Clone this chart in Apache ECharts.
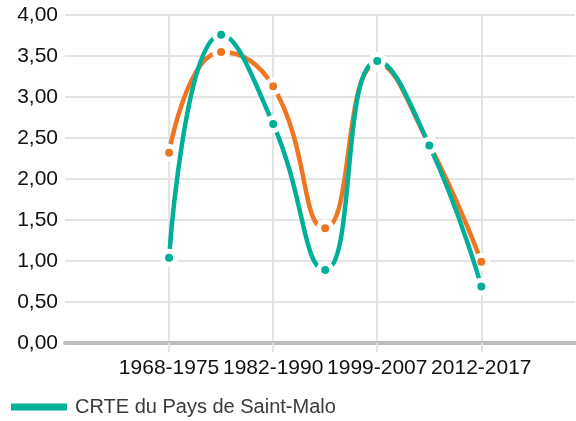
<!DOCTYPE html>
<html>
<head>
<meta charset="utf-8">
<script src="https://cdn.jsdelivr.net/npm/echarts@6/dist/echarts.min.js"></script>
<style>
  html, body { margin: 0; padding: 0; background: #fff; }
  #chart { width: 576px; height: 421px; }
</style>
</head>
<body>
<div id="chart"></div>
<script>
// périodes intercensitaires (une étiquette sur deux affichée)
var periodes = ['1968-1975', '1975-1982', '1982-1990', '1990-1999', '1999-2007', '2007-2012', '2012-2017'];
var ticksX = [0, 2, 4, 6];
var ticksY = [0, 0.5, 1, 1.5, 2, 2.5, 3, 3.5, 4];

// série de comparaison (orange, hors légende)
var valeursRef = [2.32, 3.55, 3.13, 1.40, 3.41, 2.42, 0.99];
// CRTE du Pays de Saint-Malo (vert)
var valeursCrte = [1.04, 3.76, 2.67, 0.89, 3.44, 2.41, 0.69];

var nomCrte = 'CRTE du Pays de Saint-Malo';
var police = 'Liberation Sans, Arial, sans-serif';

function paires(vals) {
  return vals.map(function (v, i) { return [i, v]; });
}

var myChart = echarts.init(document.getElementById('chart'));

var option = {
  animation: false,
  textStyle: { fontFamily: police },
  grid: {
    left: 65,
    right: 1,
    top: 15,
    bottom: 78,
    containLabel: false
  },
  legend: {
    data: [nomCrte],
    left: 11,
    top: 397,
    padding: 0,
    icon: 'rect',
    itemWidth: 56,
    itemHeight: 7,
    itemStyle: { borderWidth: 0 },
    textStyle: {
      fontSize: 20,
      color: '#3a3a3a',
      fontFamily: police,
      padding: [0, 0, 0, 3]
    }
  },
  xAxis: {
    type: 'value',
    min: -2,
    max: 7.8,
    interval: 2,
    axisLine: {
      show: true,
      onZero: false,
      lineStyle: { color: '#bdbdbd', width: 4 }
    },
    axisTick: {
      show: true,
      length: 9,
      customValues: ticksX,
      lineStyle: { color: '#e3e3e3', width: 2 }
    },
    axisLabel: {
      customValues: ticksX,
      margin: 15,
      fontSize: 21,
      color: '#111',
      fontFamily: police,
      formatter: function (v) { return periodes[Math.round(v)] || ''; }
    },
    splitLine: {
      show: true,
      lineStyle: { color: '#e3e3e3', width: 2 }
    }
  },
  yAxis: {
    type: 'value',
    min: ticksY[0],
    max: ticksY[ticksY.length - 1],
    interval: 0.5,
    axisLine: { show: false },
    axisTick: { show: false },
    axisLabel: {
      margin: 7,
      fontSize: 21,
      color: '#111',
      fontFamily: police,
      formatter: function (v) { return v.toFixed(2).replace('.', ','); }
    },
    splitLine: {
      show: true,
      lineStyle: { color: '#e3e3e3', width: 2 }
    }
  },
  series: [
    {
      name: 'Référence',
      type: 'line',
      smooth: 0.5,
      data: paires(valeursRef),
      symbol: 'circle',
      symbolSize: 13,
      lineStyle: { color: '#ef7521', width: 4.5 },
      itemStyle: { color: '#ef7521', borderColor: '#fff', borderWidth: 5 },
      z: 2
    },
    {
      name: nomCrte,
      type: 'line',
      smooth: 0.5,
      data: paires(valeursCrte),
      symbol: 'circle',
      symbolSize: 13,
      lineStyle: { color: '#00af98', width: 4.5 },
      itemStyle: { color: '#00af98', borderColor: '#fff', borderWidth: 5 },
      z: 3
    }
  ]
};

myChart.setOption(option);
</script>
</body>
</html>
